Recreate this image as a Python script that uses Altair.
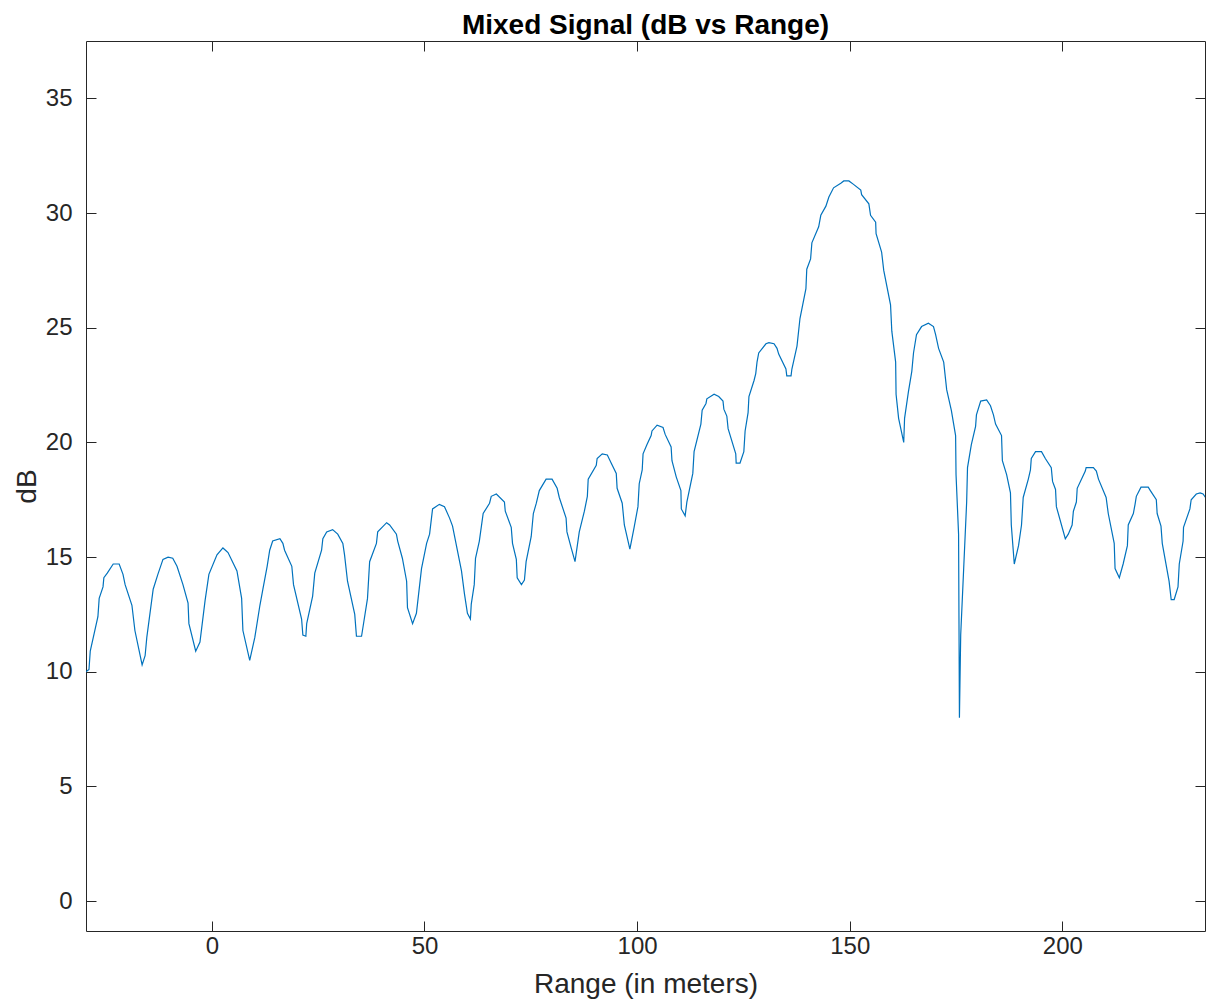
import altair as alt
import pandas as pd

range_m = [
    -29.6, -28.9, -28.6, -26.8, -26.5, -25.6, -25.4, -24.6, -23.2, -21.8, -20.9, -20.4, -18.8, -18.1,
    -16.4, -15.7, -15.3, -13.8, -12.7, -11.5, -10.3, -9.2, -8.2, -6.8, -5.6, -5.4,
    -3.8, -2.8, -1.6, -0.7, 1.2, 2.6, 3.8, 5.9, 7.0, 7.3,
    8.9, 10.1, 11.3, 12.0, 13.0, 13.6, 14.3, 16.0, 16.7, 17.1, 18.8, 19.2, 21.1, 21.4,
    22.1, 22.3, 23.7, 24.2, 25.8, 26.1, 27.0, 28.4, 29.6, 30.8, 31.2, 31.9, 33.6, 34.0,
    35.2, 36.6, 37.1, 38.7, 39.0, 41.1, 41.8, 43.4, 43.7, 44.8, 45.8, 46.0,
    47.2, 48.1, 49.3, 50.5, 51.2, 51.9, 53.5, 54.7, 55.9, 56.6, 58.7, 59.4, 60.1,
    60.8, 61.0, 61.7, 62.0, 62.9, 63.8, 65.3, 65.7, 66.9, 68.8, 69.0, 70.4, 70.7, 71.6, 71.8,
    72.8, 73.5, 73.9, 75.1, 75.6, 76.3, 77.0, 78.6, 80.0, 81.2, 81.7, 83.3, 83.5, 84.5,
    85.4, 86.4, 87.6, 88.3, 88.5, 90.4, 90.6, 91.8, 93.0, 93.9, 95.1, 95.3, 96.5, 97.0,
    98.3, 99.3, 100.2, 100.5, 101.2, 101.4, 102.3, 103.3, 103.5, 104.7, 106.1, 106.6, 108.0, 108.2,
    109.2, 110.3, 110.4, 111.3, 111.7, 113.1, 113.4, 115.0, 115.3, 116.2, 116.4, 118.1, 119.2,
    120.2, 120.4, 121.1, 121.4, 123.2, 123.3, 124.2, 125.1, 125.4, 126.1, 126.3, 127.5, 127.9,
    128.2, 128.6, 130.3, 131.0, 132.2, 132.9, 133.3, 135.0, 135.2, 136.2, 136.4, 137.6, 138.3,
    139.7, 139.9, 140.8, 141.1, 142.7, 143.2, 144.4, 145.1, 146.2, 147.9, 148.6, 149.8, 150.9,
    152.6, 152.8, 154.5, 154.9, 156.1, 156.2, 157.5, 158.0, 159.6, 159.9, 160.8, 160.9, 161.5,
    162.7, 162.9, 163.8, 164.6, 165.0, 165.7, 166.9, 168.5, 169.7, 170.2, 170.9, 172.1, 172.8,
    173.9, 174.9, 175.0, 175.6, 175.8, 176.1, 176.8, 177.5, 177.7, 178.6, 179.6, 179.8, 180.8,
    182.2, 183.1, 183.8, 184.3, 185.7, 185.9, 186.9, 187.8, 188.0, 188.7, 189.7, 190.4, 190.8,
    192.0, 192.5, 192.7, 193.7, 195.1, 196.0, 197.4, 197.7, 198.4, 198.6, 200.7, 201.4, 202.3,
    202.6, 203.3, 203.5, 205.4, 205.6, 207.3, 208.0, 208.5, 210.3, 210.8, 212.2, 212.4, 213.4,
    214.3, 215.3, 215.5, 216.7, 217.1, 217.4, 218.5, 220.2, 220.7, 222.1, 222.3, 223.2, 223.5,
    225.1, 225.6, 226.3, 227.2, 227.5, 228.4, 228.5, 230.0, 230.3, 231.5, 232.4, 233.1, 235.2,
]

db = [
    10.0, 10.1, 10.9, 12.4, 13.2, 13.7, 14.1, 14.3, 14.7, 14.7, 14.25, 13.8, 12.9, 11.8,
    10.3, 10.7, 11.5, 13.6, 14.25, 14.9, 15.0, 14.95, 14.6, 13.8, 13.0, 12.1,
    10.9, 11.3, 13.1, 14.25, 15.1, 15.4, 15.2, 14.4, 13.2, 11.8,
    10.5, 11.5, 12.9, 13.6, 14.6, 15.3, 15.7, 15.8, 15.6, 15.3, 14.6, 13.8, 12.3, 11.6,
    11.55, 12.1, 13.3, 14.3, 15.3, 15.8, 16.1, 16.2, 16.0, 15.6, 15.1, 13.95, 12.5, 11.55,
    11.55, 13.2, 14.8, 15.6, 16.1, 16.5, 16.4, 16.0, 15.7, 14.95, 13.95, 12.8,
    12.1, 12.55, 14.5, 15.6, 16.0, 17.1, 17.3, 17.2, 16.7, 16.35, 14.4, 13.4, 12.55,
    12.3, 12.95, 13.8, 14.95, 15.7, 16.9, 17.35, 17.65, 17.75, 17.4, 17.0, 16.3, 15.6, 14.9, 14.1,
    13.8, 14.0, 14.8, 15.9, 16.9, 17.35, 17.9, 18.4, 18.4, 18.0, 17.6, 16.7, 16.1, 15.4,
    14.8, 16.1, 17.0, 17.65, 18.4, 19.0, 19.3, 19.5, 19.45, 19.1, 18.65, 18.0, 17.35, 16.4,
    15.35, 16.3, 17.2, 18.2, 18.8, 19.5, 19.9, 20.3, 20.5, 20.75, 20.65, 20.35, 19.8, 19.2,
    18.5, 17.9, 17.1, 16.8, 17.4, 18.65, 19.6, 20.8, 21.4, 21.7, 21.9, 22.1, 22.0,
    21.8, 21.45, 21.15, 20.6, 19.5, 19.1, 19.1, 19.6, 20.5, 21.3, 22.0, 22.7, 23.0,
    23.5, 23.9, 24.3, 24.35, 24.3, 24.1, 23.85, 23.2, 22.9, 22.9, 23.2, 24.2, 25.4,
    26.7, 27.55, 28.0, 28.7, 29.4, 29.9, 30.3, 30.7, 31.1, 31.3, 31.4, 31.4, 31.25,
    31.0, 30.8, 30.4, 29.9, 29.6, 29.1, 28.3, 27.5, 26.0, 24.85, 23.5, 22.1, 21.05,
    20.0, 21.05, 22.2, 23.1, 23.9, 24.7, 25.05, 25.2, 25.05, 24.7, 24.1, 23.5, 22.3,
    21.4, 20.3, 18.6, 16.0, 8.0, 11.6, 14.5, 17.4, 18.9, 19.9, 20.7, 21.2, 21.8,
    21.85, 21.6, 21.2, 20.8, 20.3, 19.2, 18.6, 17.8, 16.4, 14.7, 15.5, 16.4, 17.6,
    18.4, 18.8, 19.3, 19.6, 19.6, 19.3, 18.9, 18.3, 17.95, 17.2, 15.8, 16.0, 16.4,
    17.0, 17.4, 18.0, 18.75, 18.9, 18.9, 18.75, 18.4, 17.6, 16.9, 15.6, 14.5, 14.1,
    14.7, 15.5, 16.4, 16.9, 17.3, 17.65, 18.05, 18.05, 17.9, 17.5, 16.9, 16.35, 15.6,
    13.95, 13.15, 13.15, 13.7, 14.7, 15.7, 16.3, 17.1, 17.5, 17.75, 17.8, 17.75, 17.2,
]

x_ticks = [0, 50, 100, 150, 200]
y_ticks = [0, 5, 10, 15, 20, 25, 30, 35]
x_domain = [-29.6, 233.55]
y_domain = [-1.3, 37.5]

df = pd.DataFrame({"range": range_m, "db": db})

FONT = "Liberation Sans"
INK = "#262626"

xscale = alt.Scale(domain=x_domain, nice=False, zero=False)
yscale = alt.Scale(domain=y_domain, nice=False, zero=False)

base = alt.Chart(df)

line = base.mark_line(color="#0072BD", strokeWidth=1.2, clip=True).encode(
    x=alt.X(
        "range:Q",
        scale=xscale,
        axis=alt.Axis(
            orient="bottom", values=x_ticks, offset=-10, tickSize=10, tickColor=INK,
            domain=False, grid=False, labelPadding=3, labelFontSize=24, labelColor=INK,
            labelFont=FONT, title="Range (in meters)", titleFont=FONT, titleFontSize=28,
            titleFontWeight="normal", titleColor=INK, titlePadding=12,
        ),
    ),
    y=alt.Y(
        "db:Q",
        scale=yscale,
        axis=alt.Axis(
            orient="left", values=y_ticks, offset=-10, tickSize=10, tickColor=INK,
            domain=False, grid=False, labelPadding=14, labelFontSize=24, labelColor=INK,
            labelFont=FONT, title="dB", titleFont=FONT, titleFontSize=28,
            titleFontWeight="normal", titleColor=INK, titlePadding=4,
        ),
    ),
)

mirror = base.mark_line(opacity=0).encode(
    x=alt.X(
        "range:Q",
        scale=xscale,
        axis=alt.Axis(
            orient="top", values=x_ticks, offset=-10, tickSize=10, tickColor=INK,
            domain=False, grid=False, labels=False, title="",
        ),
    ),
    y=alt.Y(
        "db:Q",
        scale=yscale,
        axis=alt.Axis(
            orient="right", values=y_ticks, offset=-10, tickSize=10, tickColor=INK,
            domain=False, grid=False, labels=False, title="",
        ),
    ),
)

chart = (
    alt.layer(line, mirror)
    .resolve_axis(x="independent", y="independent")
    .properties(
        width=1119,
        height=890,
        title=alt.Title(
            "Mixed Signal (dB vs Range)", font=FONT, fontSize=28, fontWeight="bold",
            color="#000000", anchor="middle", baseline="alphabetic", offset=10, dy=31,
        ),
        autosize=alt.AutoSizeParams(type="none"),
        padding={"left": 78, "top": 33, "right": 1, "bottom": 68},
    )
    .configure_view(stroke=INK, strokeWidth=1)
)

chart.save("out.html", embed_options={"renderer": "svg", "actions": False})
